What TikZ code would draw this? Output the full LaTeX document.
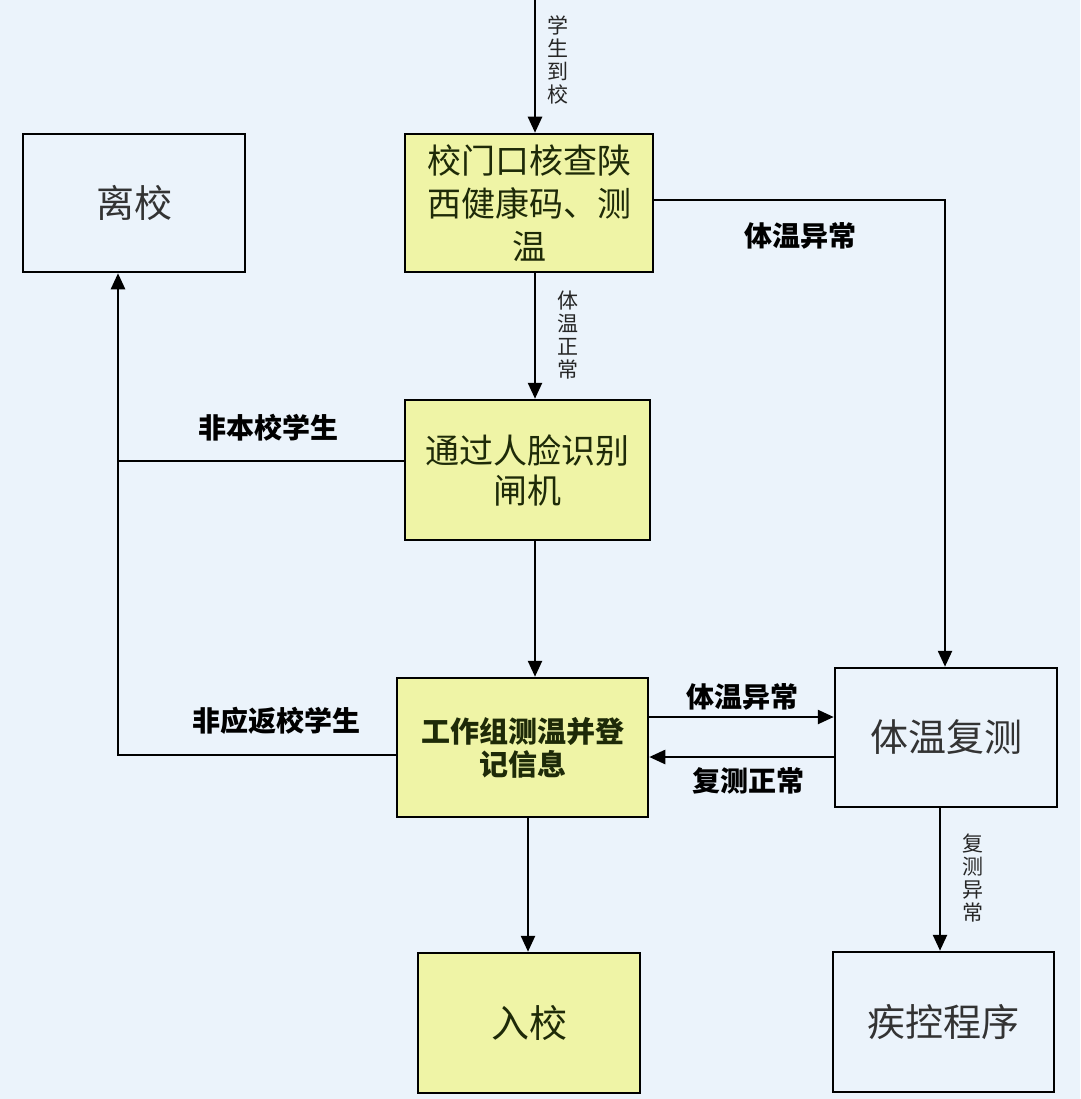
\documentclass[tikz,border=0pt]{standalone}
\usepackage{fontspec}
\setmainfont{Noto Sans CJK SC}
\usetikzlibrary{arrows.meta,calc}
\definecolor{bg}{HTML}{EBF3FB}
\definecolor{ylw}{HTML}{EFF4A6}
\definecolor{dgreen}{HTML}{1E2A08}
\definecolor{plaintxt}{HTML}{333333}
\tikzset{
  box/.style={draw=black, line width=2.5pt, inner sep=0pt, align=center},
  ybox/.style={box, fill=ylw, text=dgreen},
  pbox/.style={box, text=plaintxt, font=\fontsize{38}{44}\selectfont},
  arr/.style={line width=2.5pt, -{Triangle[length=16pt,width=14pt]}},
  ln/.style={line width=2.5pt},
  lab/.style={font=\bfseries\fontsize{28}{30}\selectfont, text=black},
  vlab/.style={font=\fontsize{21}{23}\selectfont, align=center, text=black!85}
}
\begin{document}
\begin{tikzpicture}[x=1pt,y=-1pt]
\fill[bg] (0,0) rectangle (1080,1099);
\useasboundingbox (0,0) rectangle (1080,1099);

\node[pbox, minimum width=222pt, minimum height=138pt] (lixiao) at (134,203) {离校};
\node[ybox, minimum width=248pt, minimum height=138pt, font=\fontsize{34}{43}\selectfont] (gate) at (529,203) {校门口核查陕\\西健康码、测\\温};
\node[ybox, minimum width=245pt, minimum height=140pt, font=\fontsize{34}{40}\selectfont] (face) at (527.5,470) {通过人脸识别\\闸机};
\node[ybox, minimum width=251pt, minimum height=139pt, font=\bfseries\fontsize{29}{33}\selectfont] (work) at (522.5,747.5) {工作组测温并登\\记信息};
\node[ybox, minimum width=222pt, minimum height=140pt, font=\fontsize{38}{44}\selectfont] (enter) at (529,1023) {入校};
\node[pbox, minimum width=222pt, minimum height=139pt] (retest) at (946,737.5) {体温复测};
\node[pbox, minimum width=221pt, minimum height=140pt] (cdc) at (943.5,1022) {疾控程序};

\coordinate (start) at (535,0);
\coordinate (join) at (118,461);

% arrival
\draw[arr] (start) -- (start |- gate.north);
\node[vlab] (l1) at (558,60) {学\\生\\到\\校};

% gate -> face
\draw[arr] (gate.south -| 535,0) -- (face.north -| 535,0);
\node[vlab] (l2) at (568,335) {体\\温\\正\\常};

% gate -> retest
\draw[arr] (gate.east |- 0,200) -| (retest.north -| 945,0);
\node[lab] (l3) at (800,236) {体温异常};

% face -> work
\draw[arr] (face.south -| 535,0) -- (work.north -| 535,0);

% face -> lixiao (join)
\draw[ln] (face.west |- join) -- (join);
\node[lab] (l4) at (268,428) {非本校学生};

% work -> lixiao
\draw[arr] (work.west |- 0,755) -| (lixiao.south -| join);
\node[lab] (l5) at (276,721) {非应返校学生};

% work <-> retest
\draw[arr] (work.east |- 0,717) -- (retest.west |- 0,717);
\node[lab] (l6) at (742,697) {体温异常};
\draw[arr] (retest.west |- 0,757) -- (work.east |- 0,757);
\node[lab] (l7) at (748,781) {复测正常};

% work -> enter
\draw[arr] (work.south -| 528,0) -- (enter.north -| 528,0);

% retest -> cdc
\draw[arr] (retest.south -| 940,0) -- (cdc.north -| 940,0);
\node[vlab] (l8) at (973,878) {复\\测\\异\\常};
\end{tikzpicture}
\end{document}
